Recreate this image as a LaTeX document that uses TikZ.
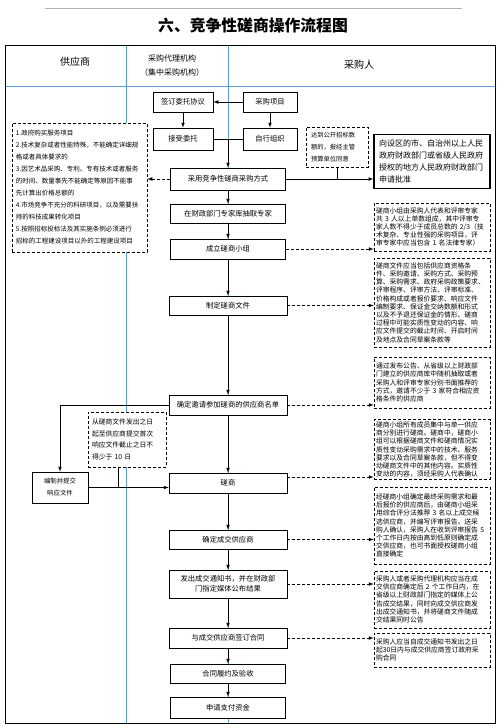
\documentclass[tikz,border=0pt]{standalone}
\usepackage{fontspec}
\setmainfont{Noto Sans CJK SC}
\definecolor{gridblue}{RGB}{91,155,213}
\newcommand{\notefont}{\fontsize{6.8}{8.2}\selectfont}
\newcommand{\reasonfont}{\fontsize{6.5}{12}\selectfont}
\tikzset{
  mainbox/.style={draw, fill=white, line width=0.7pt, minimum width=118pt, minimum height=20pt, inner sep=1pt, font=\fontsize{7.3}{10}\selectfont, align=center},
  notebox/.style={draw, fill=white, densely dashed, line width=0.7pt, inner sep=2pt, align=left, font=\notefont},
  arr/.style={-latex, line width=0.7pt},
  dasharr/.style={-latex, densely dashed, line width=0.7pt},
}
\begin{document}
\begin{tikzpicture}[x=1pt,y=-1pt]
        \useasboundingbox (0,0) rectangle (500,728);

        % page rule and title
        \draw[gray!60, line width=0.6pt] (45,8) -- (462,8);
        \node[font=\fontsize{15.8}{18}\selectfont\bfseries] (title) at (253,25) {六、竞争性磋商操作流程图};

        % table grid
        \draw[gridblue, line width=0.6pt] (5,86) -- (495,86);
        \draw[gridblue, line width=0.6pt] (126,45) -- (126,723);
        \draw[gridblue, line width=0.6pt] (228,45) -- (228,723);
        \draw[line width=0.7pt] (5,45) rectangle (495,723);

        \node[font=\fontsize{10}{12}\selectfont] (gys) at (75,62) {供应商};
        \node[font=\fontsize{8}{14}\selectfont, align=center] (dljg) at (172,66) {采购代理机构\\（集中采购机构）};
        \node[font=\fontsize{10}{12}\selectfont] (cgr) at (359,65) {采购人};

        % main column
        \node[mainbox, minimum width=60pt] (qdwt) at (183,102) {签订委托协议};
        \node[mainbox, minimum width=54pt] (cgxm) at (270,102) {采购项目};
        \node[mainbox, minimum width=60pt, minimum height=22pt] (jswt) at (183,139) {接受委托};
        \node[mainbox, minimum width=54pt, minimum height=22pt] (zxzz) at (270,139) {自行组织};
        \node[mainbox, minimum width=115pt, minimum height=22pt] (cyfs) at (228,179) {采用竞争性磋商采购方式};
        \node[mainbox, minimum width=115pt, minimum height=19pt] (cqzj) at (228,213.5) {在财政部门专家库抽取专家};
        \node[mainbox, minimum width=115pt] (clxz) at (228,249) {成立磋商小组};
        \node[mainbox, minimum height=19pt] (zdwj) at (228,305.5) {制定磋商文件};
        \node[mainbox] (qdmd) at (228,405) {确定邀请参加磋商的供应商名单};
        \node[mainbox] (cs) at (228,483) {磋商};
        \node[mainbox, minimum height=19pt] (qdcj) at (228,539.5) {确定成交供应商};
        \node[mainbox, minimum height=28pt] (fctz) at (228,584) {发出成交通知书，并在财政部\\门指定媒体公布结果};
        \node[mainbox] (qdht) at (228,638) {与成交供应商签订合同};
        \node[mainbox, minimum width=115pt, minimum height=19pt] (htly) at (228,673.5) {合同履约及验收};
        \node[mainbox, minimum width=115pt, minimum height=21pt] (sqzj) at (228,707.5) {申请支付资金};

        % supplier column
        \node[notebox, font=\reasonfont, text width=127pt, minimum height=129pt, inner sep=4pt] (qkbox) at (79.5,187.5) {1.政府购买服务项目\\2.技术复杂或者性能特殊，不能确定详细规\\格或者具体要求的\\3.因艺术品采购、专利、专有技术或者服务\\的时间、数量事先不能确定等原因不能事\\先计算出价格总额的\\4.市场竞争不充分的科研项目，以及需要扶\\持的科技成果转化项目\\5.按照招标投标法及其实施条例必须进行\\招标的工程建设项目以外的工程建设项目};
        \node[notebox, font=\fontsize{6.8}{11.5}\selectfont, text width=70pt, minimum height=55pt, inner sep=4pt] (sjbox) at (127,439.5) {从磋商文件发出之日\\起至供应商提交首次\\响应文件截止之日不\\得少于 10 日};
        \node[draw, fill=white, line width=0.7pt, minimum width=56pt, minimum height=31pt, align=center, font=\fontsize{6.4}{12}\selectfont] (bzwj) at (60,487.5) {编制并提交\\响应文件};

        % purchaser column
        \node[notebox, font=\fontsize{6.3}{12}\selectfont, text width=52pt, minimum height=40pt, inner sep=5pt] (gkzb) at (337,147) {达到公开招标数\\额的，报经主管\\预算单位同意};
        \node[draw, fill=white, line width=1.1pt, text width=106pt, minimum height=49pt, inner sep=5pt, align=left, font=\fontsize{8}{12}\selectfont] (sqpz) at (432,161.5) {向设区的市、自治州以上人民\\政府财政部门或省级人民政府\\授权的地方人民政府财政部门\\申请批准};
        \node[notebox, text width=112pt, minimum height=48pt] (smA) at (432,227) {磋商小组由采购人代表和评审专家\\共 3 人以上单数组成，其中评审专\\家人数不得少于成员总数的 2/3（技\\术复杂、专业性强的采购项目，评\\审专家中应当包含 1 名法律专家）};
        \node[notebox, text width=112pt, minimum height=89pt] (smB) at (432,302.5) {磋商文件应当包括供应商资格条\\件、采购邀请、采购方式、采购预\\算、采购需求、政府采购政策要求、\\评审程序、评审方法、评审标准、\\价格构成或者报价要求、响应文件\\编制要求、保证金交纳数额和形式\\以及不予退还保证金的情形、磋商\\过程中可能实质性变动的内容、响\\应文件提交的截止时间、开启时间\\及地点及合同草案条款等};
        \node[notebox, text width=112pt, minimum height=51pt] (smC) at (432,382.5) {通过发布公告、从省级以上财政部\\门建立的供应商库中随机抽取或者\\采购人和评审专家分别书面推荐的\\方式，邀请不少于 3 家符合相应资\\格条件的供应商};
        \node[notebox, text width=112pt, minimum height=59pt] (smD) at (432,449.5) {磋商小组所有成员集中与单一供应\\商分别进行磋商。磋商中，磋商小\\组可以根据磋商文件和磋商情况实\\质性变动采购需求中的技术、服务\\要求以及合同草案条款，但不得变\\动磋商文件中的其他内容。实质性\\变动的内容，须经采购人代表确认};
        \node[notebox, text width=112pt, minimum height=77pt] (smE) at (432,525.5) {经磋商小组确定最终采购需求和最\\后报价的供应商后，由磋商小组采\\用综合评分法推荐 3 名以上成交候\\选供应商，并编写评审报告。送采\\购人确认，采购人在收到评审报告 5\\个工作日内按由高到低原则确定成\\交供应商，也可书面授权磋商小组\\直接确定};
        \node[notebox, text width=112pt, minimum height=57pt] (smF) at (432,599.5) {采购人或者采购代理机构应当在成\\交供应商确定后 2 个工作日内，在\\省级以上财政部门指定的媒体上公\\告成交结果，同时向成交供应商发\\出成交通知书，并将磋商文件随成\\交结果同时公告};
        \node[notebox, text width=112pt, minimum height=34pt] (smG) at (432,650) {采购人应当自成交通知书发出之日\\起30日内与成交供应商签订政府采\\购合同};

        % connectors
        \coordinate (hb) at (228,139);
        \draw[arr] (cgxm) -- (qdwt);
        \draw[arr] (qdwt) -- (jswt);
        \draw[arr] (cgxm) -- (zxzz);
        \draw[line width=0.7pt] (jswt) -- (zxzz);
        \draw[arr] (hb) -- (hb |- cyfs.north);
        \draw[dasharr] (cyfs.west) -- (cyfs.west -| qkbox.east);
        \draw[arr] (cyfs.east) -- (cyfs.east -| sqpz.west);
        \draw[line width=0.7pt] (gkzb.south) -- (gkzb.south |- cyfs.east);

        \draw[arr] (cyfs) -- (cqzj);
        \draw[arr] (cqzj) -- (clxz);
        \draw[arr] (clxz) -- (zdwj);
        \draw[arr] (zdwj) -- (qdmd);
        \draw[arr] (qdmd) -- (cs);
        \draw[arr] (cs) -- (qdcj);
        \draw[arr] (qdcj) -- (fctz);
        \draw[arr] (fctz) -- (qdht);
        \draw[arr] (qdht) -- (htly);
        \draw[arr] (htly) -- (sqzj);

        \draw[dasharr] (clxz.east) -- (clxz.east -| smA.west);
        \draw[dasharr] (zdwj.east) -- (zdwj.east -| smB.west);
        \draw[dasharr] (qdmd.east) -- (qdmd.east -| smC.west);
        \draw[dasharr] ([yshift=6pt]cs.east) -- ([yshift=6pt]cs.east -| smD.west);
        \draw[dasharr] (qdcj.east) -- (qdcj.east -| smE.west);
        \draw[dasharr] (fctz.east) -- (fctz.east -| smF.west);
        \draw[dasharr] (qdht.east) -- (qdht.east -| smG.west);

        \draw[arr] (qdmd.west) -| (bzwj.north);
        \draw[arr] (bzwj.east) -- (bzwj.east -| cs.west);
        \draw[line width=0.7pt] ([xshift=-9pt]sjbox.south) -- ([xshift=-9pt]sjbox.south |- bzwj.east);
    \end{tikzpicture}
\end{document}
